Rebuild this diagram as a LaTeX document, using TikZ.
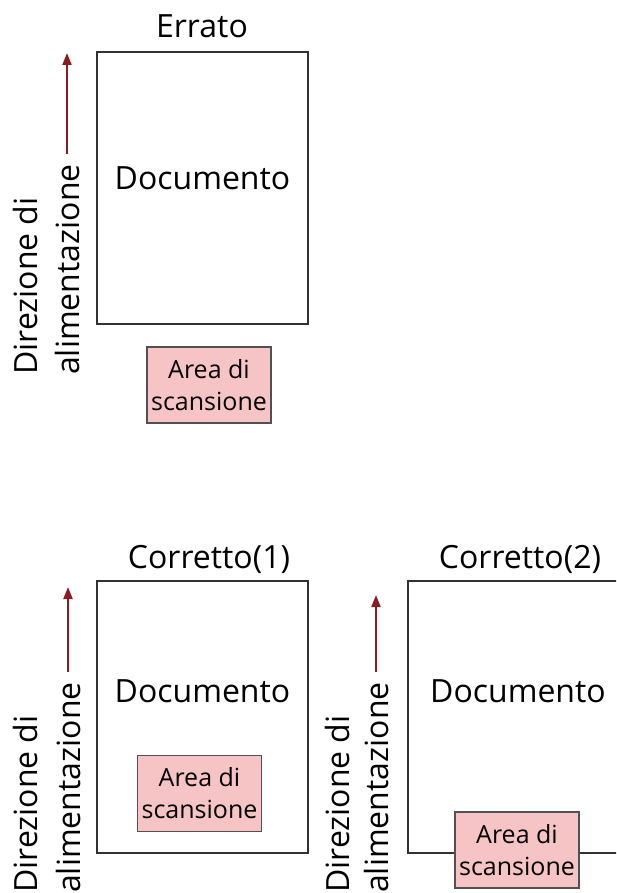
\documentclass[tikz,border=0pt]{standalone}
\usepackage{fontspec}
\setmainfont{Open Sans}
\usetikzlibrary{arrows.meta}
\definecolor{feedred}{RGB}{140,28,34}
\definecolor{scanpink}{RGB}{246,196,196}
\definecolor{docgray}{RGB}{50,50,50}
\tikzset{
  docbox/.style={draw=docgray, line width=2pt, minimum width=211pt, minimum height=272pt, inner sep=0pt},
  scanbox/.style={draw=docgray!85, fill=scanpink, line width=1.4pt, minimum width=124pt, minimum height=76pt,
    inner sep=0pt, align=center, font=\fontsize{25}{32}\selectfont},
  bigtext/.style={font=\fontsize{32}{38}\selectfont, inner sep=0pt},
  feedlabel/.style={bigtext, rotate=90, anchor=west},
  feedarrow/.style={draw=feedred, line width=2pt, -{Triangle[length=12pt,width=9pt]}, shorten <=10pt}
}

\begin{document}
\begin{tikzpicture}[x=1pt, y=-1pt]
  \clip (0,0) rectangle (616,893);
  % documents
  \node[docbox] (doc1) at (202.5,188) {};
  \node[docbox] (doc2) at (202.5,716.5) {};
  \node[docbox] (doc3) at (513.5,716.5) {};
  \node[bigtext, anchor=base] (title1) at (202,38) {Errato};
  \node[bigtext, anchor=base] (title2) at (209,568) {Corretto(1)};
  \node[bigtext, anchor=base] (title3) at (520,568) {Corretto(2)};
  \node[bigtext, anchor=base] (text1) at (202.5,190) {Documento};
  \node[bigtext, anchor=base] (text2) at (202.5,702) {Documento};
  \node[bigtext, anchor=base] (text3) at (518,702) {Documento};
  % scan areas
  \node[scanbox] (scan1) at (209,385) {Area di\\scansione};
  \node[scanbox] (scan2) at (199.5,793.5) {Area di\\scansione};
  \node[scanbox] (scan3) at (517,850) {Area di\\scansione};
  % feed direction
  \foreach \i/\xd/\xa/\yb/\yt in {1/25/67/375/53, 2/25/68/893/587, 3/337/376/893/595} {
    \node[feedlabel] (dir\i) at (\xd,\yb) {Direzione di};
    \node[feedlabel] (alim\i) at (\xa,\yb) {alimentazione};
    \coordinate (tip\i) at (\xa,\yt);
    \draw[feedarrow] (alim\i.east) -- (tip\i);
  }
\end{tikzpicture}
\end{document}
